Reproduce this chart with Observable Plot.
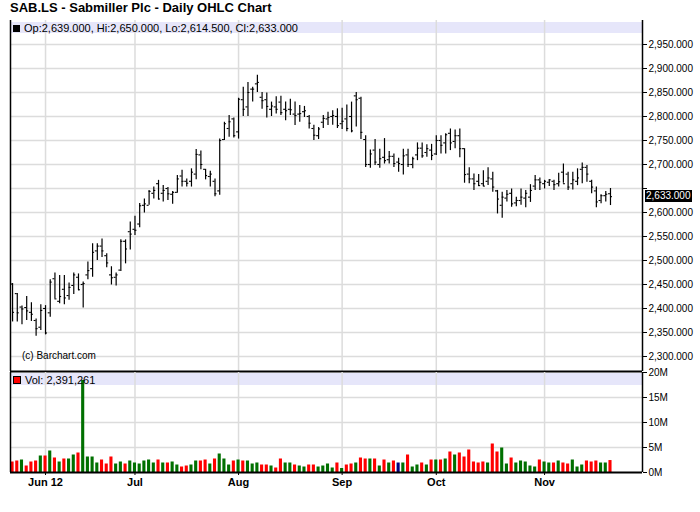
<!DOCTYPE html>
<html><head><meta charset="utf-8">
<script src="https://cdn.jsdelivr.net/npm/d3@7"></script>
<script src="https://cdn.jsdelivr.net/npm/@observablehq/plot@0.6"></script>
<style>
body{margin:0;background:#fff;font-family:"Liberation Sans",Arial,sans-serif;}
#wrap{position:relative;width:700px;height:512px;overflow:hidden;}
.abs{position:absolute;}
#title{left:10px;top:0px;font-size:13px;font-weight:bold;line-height:15px;color:#000;}
.band{background:#e6e6fa;}
.leg{font-size:11px;line-height:12px;color:#000;white-space:nowrap;}
.sq{display:inline-block;width:7px;height:7px;margin-right:4px;vertical-align:0px;}
#copy{left:22px;font-size:10px;line-height:10px;}
#lastbox{background:#000;color:#fff;font-size:10px;line-height:12px;height:12px;padding:0 1px;}
svg{position:absolute;left:0;}
</style>
</head><body>
<div id="wrap">
  <div id="title" class="abs">SAB.LS - Sabmiller Plc - Daily OHLC Chart</div>
</div>
<script>
// ---- data (trading days 23 May 2012 .. 21 Nov 2012) ----
const open  = [2451,2431,2403,2402,2392,2375,2361,2400,2391,2462,2415,2440,2427,2448,2465,2450,2470,2483,2520,2530,
2510,2470,2465,2480,2540,2560,2565,2576,2615,2615,2640,2660,2640,2650,2638,2642,2676,2665,2665,2680,
2720,2690,2675,2665,2645,2752,2775,2795,2768,2835,2820,2857,2868,2840,2835,2815,2820,2830,2815,2815,
2805,2805,2810,2800,2775,2760,2788,2795,2800,2800,2785,2795,2800,2843,2838,2752,2700,2730,2700,2715,
2710,2717,2705,2700,2720,2700,2720,2734,2725,2730,2722,2750,2745,2765,2748,2760,2733,2680,2670,2665,
2660,2665,2670,2645,2615,2630,2640,2620,2625,2630,2632,2655,2668,2660,2663,2665,2660,2684,2680,2660,
2665,2690,2694,2665,2645,2625,2635,2639];
const high  = [2452,2431,2405,2425,2412,2378,2408,2406,2460,2474,2469,2469,2453,2474,2472,2455,2497,2535,2535,2545,
2514,2487,2474,2543,2543,2580,2592,2619,2628,2646,2653,2667,2656,2652,2644,2677,2688,2670,2691,2731,
2728,2690,2686,2670,2753,2788,2802,2797,2838,2861,2871,2861,2886,2850,2849,2830,2841,2842,2830,2836,
2830,2823,2821,2802,2782,2777,2802,2809,2812,2816,2817,2824,2830,2850,2840,2760,2730,2752,2732,2754,
2727,2722,2713,2732,2732,2715,2745,2745,2741,2742,2760,2760,2764,2774,2772,2774,2733,2693,2680,2679,
2687,2693,2684,2646,2642,2646,2649,2632,2649,2646,2658,2677,2672,2667,2668,2667,2682,2701,2684,2684,
2691,2703,2698,2667,2653,2637,2644,2650];
const low   = [2372,2372,2366,2375,2373,2342,2354,2345,2382,2420,2410,2408,2417,2429,2437,2401,2460,2465,2500,2506,
2485,2449,2447,2477,2493,2522,2552,2568,2599,2615,2628,2626,2622,2625,2617,2640,2653,2653,2653,2668,
2689,2668,2653,2633,2636,2750,2757,2755,2753,2800,2800,2830,2850,2815,2797,2800,2805,2802,2791,2802,
2781,2788,2798,2774,2750,2752,2775,2781,2782,2775,2773,2768,2766,2778,2752,2694,2692,2698,2692,2701,
2701,2694,2684,2678,2694,2691,2708,2713,2715,2708,2719,2722,2722,2729,2733,2714,2661,2660,2646,2654,
2654,2656,2642,2597,2588,2622,2611,2612,2615,2610,2621,2646,2646,2649,2654,2646,2653,2661,2646,2647,
2656,2660,2663,2639,2610,2618,2622,2614.5];
const close = [2392,2391,2399,2395,2388,2358,2396,2349,2455,2420,2425,2422,2444,2470,2439,2452,2479,2517,2530,2520,
2495,2464,2470,2540,2524,2555,2563,2614,2618,2644,2646,2628,2646,2639,2642,2670,2665,2661,2684,2721,
2700,2677,2680,2639,2750,2785,2789,2760,2836,2815,2850,2857,2871,2833,2821,2822,2815,2808,2812,2814,
2802,2806,2812,2786,2761,2774,2796,2798,2802,2781,2790,2775,2770,2835,2767,2700,2722,2705,2712,2708,
2717,2702,2702,2718,2700,2712,2734,2718,2733,2719,2750,2740,2762,2745,2760,2733,2679,2670,2660,2656,
2655,2672,2653,2628,2632,2638,2618,2625,2632,2640,2646,2668,2663,2665,2668,2658,2664,2660,2653,2668,
2672,2694,2680,2653,2622,2635,2638,2633];
// volume in millions of shares
const volume = [2.1,2.3,2.5,1.3,2.1,2.3,3.3,3.3,4.3,2.9,2.1,2.7,2.7,3.5,3.9,18.4,3.1,3.1,1.9,2.5,
1.7,3.1,1.7,2.1,1.7,2.3,1.9,1.7,2.3,2.5,1.9,2.5,1.9,1.9,2.1,1.5,1.1,1.3,1.5,2.3,
2.3,2.5,1.7,2.7,3.7,2.7,1.5,2.3,2.5,2.3,2.3,1.7,1.9,1.5,1.5,1.3,0.9,2.7,1.9,1.9,
1.5,1.3,1.1,1.5,1.5,1.1,1.3,1.7,0.9,1.9,0.8,1.5,1.7,1.9,2.9,2.7,2.7,2.7,1.3,2.5,
1.9,2.3,1.9,1.9,3.5,1.1,1.5,1.9,1.5,2.5,2.5,2.5,2.7,4.1,3.5,3.9,3.1,4.5,2.1,1.9,
2.1,1.9,5.7,4.1,4.9,1.7,2.9,1.9,2.3,2.1,1.3,1.1,2.5,2.1,1.9,1.9,2.3,1.9,1.7,2.5,
1.1,1.5,2.3,2.1,2.3,1.9,1.9,2.391261];
// volume bar colour code: u = up, d = down, n = unchanged
const volColorCode = [
"d","d","u","d","d","d","u","d","u","d","u","d","u","u","d","u","u","u","u","d",
"d","d","u","u","d","u","u","u","u","u","u","d","u","d","u","u","d","d","u","u",
"d","d","u","d","u","u","u","d","u","d","u","u","u","d","d","u","d","d","u","u",
"d","u","u","d","d","u","u","u","u","d","u","d","d","u","d","d","u","d","u","d",
"u","d","n","u","d","u","u","d","u","d","u","d","u","d","u","d","d","d","d","d",
"d","u","d","d","u","u","d","u","u","u","u","u","d","u","u","d","u","d","d","u",
"u","u","d","d","d","u","u","d"];
// month ticks: index of the first trading day of each month
const monthIdx = [7,26,48,70,90,113];
const monthLbl = ["Jun 12","Jul","Aug","Sep","Oct","Nov"];
const priceTicks = [2300,2350,2400,2450,2500,2550,2600,2650,2700,2750,2800,2850,2900,2950];
const volTicks = [0,5,10,15,20];
const volLbl = ["0M","5M","10M","15M","20M"];
</script>
<script>
const colorOf = {u:"#007000", d:"#ff0000", n:"#000080"};
const N = close.length;
const bars = d3.range(N).map(i => ({i, o:open[i], h:high[i], l:low[i], c:close[i]}));
const vols = d3.range(N).map(i => ({i, v:volume[i], col:colorOf[volColorCode[i]]}));
const xDomain = [-0.44, 133.8];
const wrap = document.getElementById("wrap");
const f3 = d3.format(",.3f");
const grid = "#dcdcdc";

// ---------- price panel ----------
const band1 = document.createElement("div");
band1.className = "abs band";
Object.assign(band1.style,{left:"11px",top:"22px",width:"631px",height:"11px"});
wrap.appendChild(band1);

const price = Plot.plot({
  width:700, height:372, marginTop:20, marginBottom:1, marginLeft:10, marginRight:58,
  style:{background:"transparent", fontFamily:"Liberation Sans, Arial, sans-serif", fontSize:"10px", color:"#000", overflow:"visible"},
  x:{domain:xDomain, axis:null},
  y:{domain:[2268.75,3000], axis:null},
  marks:[
    Plot.ruleY(priceTicks,{stroke:grid, strokeWidth:1.5}),
    Plot.ruleX(monthIdx,{stroke:grid, strokeWidth:1.5}),
    Plot.ruleX(bars,{x:"i", y1:"l", y2:"h", stroke:"#000", strokeWidth:1.2}),
    Plot.ruleY(bars,{y:"o", x1:d=>d.i-0.42, x2:"i", stroke:"#000", strokeWidth:1.1}),
    Plot.ruleY(bars,{y:"c", x1:"i", x2:d=>d.i+0.42, stroke:"#000", strokeWidth:1.1}),
    Plot.axisY(priceTicks,{anchor:"right", tickSize:4, tickPadding:2, stroke:"#000",
      tickFormat:d => d===2650 ? "" : f3(d), fontSize:10, fill:"#000", label:null}),
    Plot.ruleX([xDomain[0]],{stroke:"#000", strokeWidth:1.5}),
    Plot.ruleX([xDomain[1]],{stroke:"#000", strokeWidth:1.5}),
    Plot.ruleY([2268.75],{stroke:"#000", strokeWidth:2})
  ]
});
price.style.top = "0px";
wrap.appendChild(price);

const leg1 = document.createElement("div");
leg1.className = "abs leg";
Object.assign(leg1.style,{left:"13px",top:"22px"});
const last = N-1;
leg1.innerHTML = '<span class="sq" style="background:#000"></span>' +
  `Op:${f3(open[last])}, Hi:${f3(high[last])}, Lo:${f3(low[last])}, Cl:${f3(close[last])}`;
wrap.appendChild(leg1);

const yS = price.scale("y");
const box = document.createElement("div");
box.className = "abs"; box.id = "lastbox";
box.textContent = f3(close[last]);
Object.assign(box.style,{left:"645px", top:(yS.apply(close[last]) - 6) + "px"});
wrap.appendChild(box);

const copy = document.createElement("div");
copy.className = "abs"; copy.id = "copy";
copy.textContent = "(c) Barchart.com";
copy.style.top = "351px";
wrap.appendChild(copy);

// ---------- volume panel ----------
const band2 = document.createElement("div");
band2.className = "abs band";
Object.assign(band2.style,{left:"11px",top:"373px",width:"631px",height:"12px"});
wrap.appendChild(band2);

const volPlot = Plot.plot({
  width:700, height:140, marginTop:0, marginBottom:40, marginLeft:10, marginRight:58,
  style:{background:"transparent", fontFamily:"Liberation Sans, Arial, sans-serif", fontSize:"10px", color:"#000", overflow:"visible"},
  x:{domain:xDomain, axis:null},
  y:{domain:[0,20], axis:null},
  marks:[
    Plot.ruleY(volTicks.slice(1,4),{stroke:grid, strokeWidth:1.5}),
    Plot.ruleX(monthIdx,{stroke:grid, strokeWidth:1.5}),
    Plot.rectY(vols,{x1:d=>d.i-0.33, x2:d=>d.i+0.33, y1:0, y2:"v", fill:"col"}),
    Plot.axisY(volTicks,{anchor:"right", tickSize:4, tickPadding:2, stroke:"#000",
      tickFormat:(d,k)=>volLbl[k], fontSize:10, fill:"#000", label:null}),
    Plot.axisX(monthIdx,{anchor:"bottom", tickSize:3, tickPadding:3, stroke:"#000",
      tickFormat:(d,k)=>monthLbl[k], fontSize:11, fontWeight:"bold", fill:"#000", label:null}),
    Plot.ruleX([xDomain[0]],{stroke:"#000", strokeWidth:1.5}),
    Plot.ruleX([xDomain[1]],{stroke:"#000", strokeWidth:1.5}),
    Plot.ruleY([0],{stroke:"#000", strokeWidth:2})
  ]
});
volPlot.style.top = "372px";
wrap.appendChild(volPlot);

const leg2 = document.createElement("div");
leg2.className = "abs leg";
Object.assign(leg2.style,{left:"13px",top:"374px"});
leg2.innerHTML = '<span class="sq" style="background:#ff0000;border:1px solid #000;width:6px;height:6px"></span>' +
  "Vol: " + d3.format(",")(Math.round(volume[last]*1e6));
wrap.appendChild(leg2);
</script>
</body></html>
